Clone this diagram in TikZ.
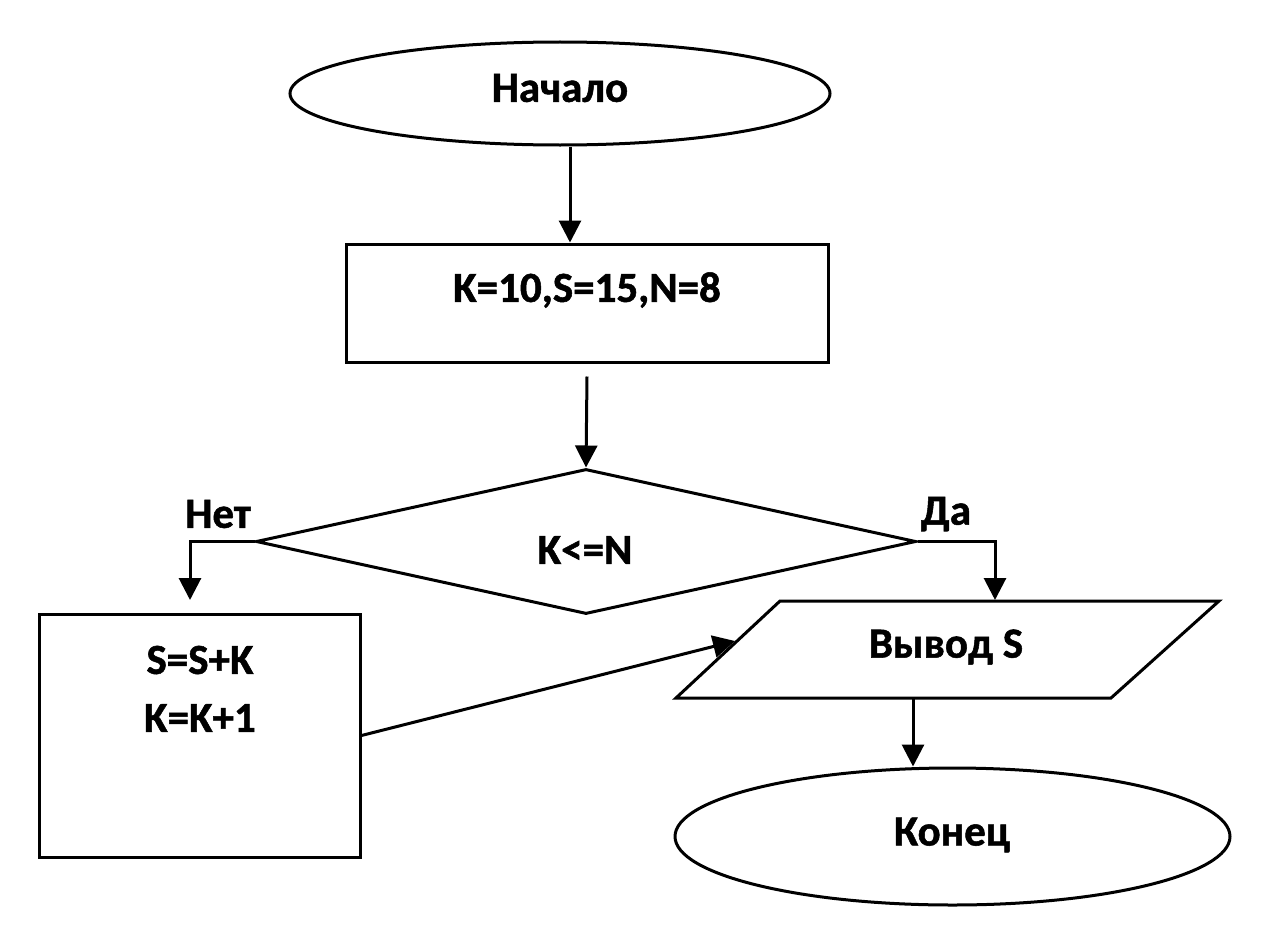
\documentclass[tikz,border=0pt]{standalone}
\usepackage{fontspec}
\setmainfont{Carlito}[BoldFeatures={FakeBold=1.2}]
\usetikzlibrary{shapes.geometric,arrows.meta}
\begin{document}
\begin{tikzpicture}[x=1pt,y=-1pt,line width=3pt,
  term/.style={draw,ellipse,inner sep=0pt},
  procbox/.style={draw,rectangle,inner sep=0pt},
  decide/.style={draw,diamond,inner sep=0pt},
  txt/.style={font=\fontsize{43}{50}\bfseries\selectfont,inner sep=0pt},
  arr/.style={-{Triangle[length=22pt,width=22pt]}}]
\useasboundingbox (0,0) rectangle (1266,934);
% shapes
\node[term,minimum width=540pt,minimum height=103pt] (start) at (560,93.5) {};
\node[procbox,minimum width=482pt,minimum height=118pt] (r1) at (587,303) {};
\node[decide,minimum width=660pt,minimum height=145pt] (dia) at (586,541.5) {};
\node[procbox,minimum width=321pt,minimum height=243pt] (r2) at (199.5,735.5) {};
\coordinate (p1) at (780,601);
\coordinate (p2) at (1219,601);
\coordinate (p3) at (1111,698);
\coordinate (p4) at (676,698);
\draw (p1) -- (p2) -- (p3) -- (p4) -- cycle;
\node[term,minimum width=555pt,minimum height=137pt] (en) at (952.5,836.5) {};
% texts
\node[txt] (t1) at (560,88) {Начало};
\node[txt] (t2) at (587,290) {K=10,S=15,N=8};
\node[txt] (t3) at (585,550) {K<=N};
\node[txt] (tno) at (218,514) {Нет};
\node[txt] (tyes) at (946,514) {Да};
\node[txt] (t4) at (200,660) {S=S+K};
\node[txt] (t5) at (200,718) {K=K+1};
\node[txt] (t6) at (946,647) {Вывод S};
\node[txt] (t7) at (952,835) {Конец};
% connectors
\coordinate (nb) at (190,600);
\coordinate (yb) at (995,600);
\coordinate (pin) at (735,641);
\coordinate (pout) at (913,698);
\draw[arr] ([xshift=10pt]start.south) -- ([xshift=-17pt]r1.north);
\draw[arr] ([yshift=-13pt]r1.south) -- (dia.north);
\draw[arr] (dia.west) -| (nb);
\draw[arr] (dia.east) -| (yb);
\draw[arr] (r2.east) -- (pin);
\draw[arr] (pout) -- (pout |- en.north);
\end{tikzpicture}
\end{document}
